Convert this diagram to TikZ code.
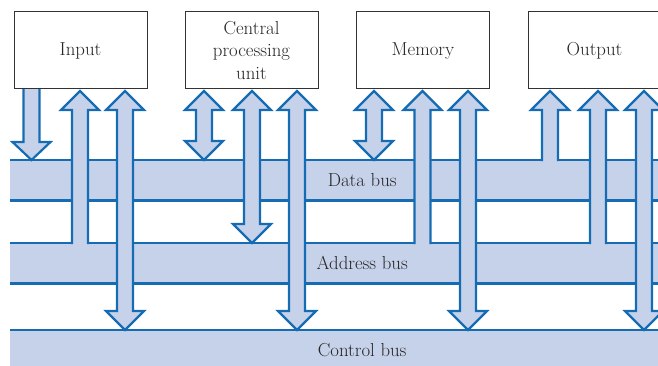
\documentclass[tikz,border=0pt]{standalone}
\usepackage{fontspec}
\definecolor{busblue}{RGB}{22,108,178}
\definecolor{busfill}{RGB}{198,209,234}
\definecolor{boxgray}{RGB}{50,50,50}
\newcommand\lblfont{\fontsize{18.8}{22.5}\selectfont}
% double-headed block arrow: centre x, top tip y, bottom tip y
\newcommand\BusTwoWay[3]{%
  \filldraw[arrowshape] (#1,#2) -- (#1+19,#2+19) -- (#1+8,#2+19) -- (#1+8,#3-19)
    -- (#1+19,#3-19) -- (#1,#3) -- (#1-19,#3-19) -- (#1-8,#3-19)
    -- (#1-8,#2+19) -- (#1-19,#2+19) -- cycle;}
% up arrow rising out of a bus: centre x, tip y, bus top y
\newcommand\BusUp[3]{%
  \fill[arrowfillonly] (#1-8,#3+1.3) -- (#1-8,#2+19) -- (#1-19,#2+19) -- (#1,#2)
    -- (#1+19,#2+19) -- (#1+8,#2+19) -- (#1+8,#3+1.3) -- cycle;
  \draw[arrowline] (#1-8,#3) -- (#1-8,#2+19) -- (#1-19,#2+19) -- (#1,#2)
    -- (#1+19,#2+19) -- (#1+8,#2+19) -- (#1+8,#3);}
% down arrow leaving a box: centre x, box bottom y, tip y
\newcommand\BusDown[3]{%
  \fill[arrowfillonly] (#1-8,#2) -- (#1-8,#3-18) -- (#1-19,#3-18) -- (#1,#3)
    -- (#1+19,#3-18) -- (#1+8,#3-18) -- (#1+8,#2) -- cycle;
  \draw[arrowline] (#1-8,#2) -- (#1-8,#3-18) -- (#1-19,#3-18) -- (#1,#3)
    -- (#1+19,#3-18) -- (#1+8,#3-18) -- (#1+8,#2);}
\begin{document}
\begin{tikzpicture}[x=1pt,y=-1pt,
  busbody/.style={fill=busfill, draw=none, minimum width=704pt, minimum height=40pt,
    inner sep=0pt, anchor=north west, font=\lblfont, text=black!85},
  busline/.style={draw=busblue, line width=2.2pt},
  unitbox/.style={draw=boxgray, line width=1pt, fill=white, minimum width=133pt,
    minimum height=77pt, inner sep=0pt, align=center, font=\lblfont, text=black!85},
  arrowshape/.style={fill=busfill, draw=busblue, line width=2.2pt, line join=miter},
  arrowfillonly/.style={fill=busfill},
  arrowline/.style={draw=busblue, line width=2.2pt, line join=miter, line cap=rect}]
\useasboundingbox (0,0) rectangle (658,366);
\clip (0,0) rectangle (658,366);
% buses
\node[busbody] (data) at (10,160) {Data bus};
\node[busbody] (addr) at (10,243) {Address bus};
\node[busbody] (ctrl) at (10,330) {Control bus};
\foreach \b in {data,addr,ctrl}{
  \draw[busline] (\b.north west) -- (\b.north east);
  \draw[busline] (\b.south west) -- (\b.south east);
}
% Input
\BusDown{31.5}{89}{160}
\BusUp{80}{91}{243}
\BusTwoWay{125}{91}{330}
% CPU
\BusTwoWay{204}{91}{160}
\BusTwoWay{252}{91}{243}
\BusTwoWay{297}{91}{330}
% Memory
\BusTwoWay{374}{91}{160}
\BusUp{422.5}{91}{243}
\BusTwoWay{468}{91}{330}
% Output
\BusUp{550}{91}{160}
\BusUp{598}{91}{243}
\BusTwoWay{644}{91}{330}
% units
\node[unitbox] (inp) at (80.5,50.5) {Input};
\node[unitbox] (cpu) at (251.5,50.5) {Central\\processing\\unit};
\node[unitbox] (mem) at (423,50.5) {Memory};
\node[unitbox] (out) at (594.5,50.5) {Output};
\end{tikzpicture}
\end{document}
